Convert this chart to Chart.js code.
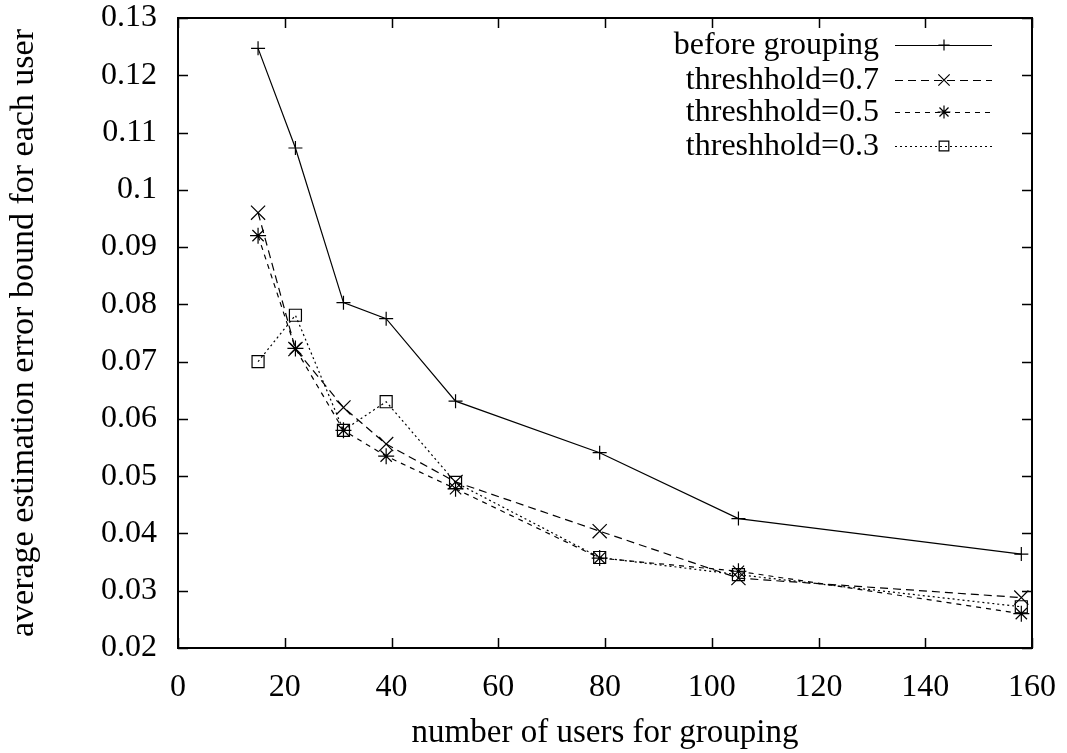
<!DOCTYPE html>
<html>
<head>
<meta charset="utf-8">
<script src="https://cdn.jsdelivr.net/npm/chart.js@4/dist/chart.umd.min.js"></script>
<style>
  html, body { margin: 0; padding: 0; background: #fff; }
  #wrap { width: 1067px; height: 753px; }
</style>
</head>
<body>
<div id="wrap"><canvas id="chart" width="1067" height="753"></canvas></div>
<script>
const users = [15, 22, 31, 39, 52, 79, 105, 158];
const beforeGrouping = [0.1247, 0.1073, 0.0803, 0.0775, 0.0631, 0.0541, 0.0426, 0.0364];
const thresh07 = [0.0960, 0.0722, 0.0620, 0.0556, 0.0490, 0.0404, 0.0322, 0.0288];
const thresh05 = [0.0920, 0.0723, 0.0580, 0.0535, 0.0478, 0.0357, 0.0334, 0.0260];
const thresh03 = [0.0700, 0.0781, 0.0580, 0.0630, 0.0489, 0.0358, 0.0328, 0.0272];
const seriesLabels = ["before grouping", "threshhold=0.7", "threshhold=0.5", "threshhold=0.3"];
const xTitle = "number of users for grouping";
const yTitle = "average estimation error bound for each user";

const FONT = "'Liberation Serif', 'DejaVu Serif', serif";

function pts(ys) {
  return users.map((x, i) => ({ x, y: ys[i] }));
}

function series(label, ys, style, radius, dash) {
  return {
    label,
    data: pts(ys),
    borderColor: "#000",
    backgroundColor: "rgba(0,0,0,0)",
    borderWidth: 1.2,
    borderDash: dash,
    pointStyle: style,
    pointRadius: radius,
    pointBorderColor: "#000",
    pointBorderWidth: 1.2,
    pointBackgroundColor: "rgba(0,0,0,0)",
    tension: 0
  };
}

// gnuplot-like frame, inward ticks on all four sides, axis titles and key
const gnuplotFrame = {
  id: "gnuplotFrame",
  afterDraw(chart) {
    const { ctx, chartArea: a, scales } = chart;
    const xs = scales.x, ys = scales.y;
    ctx.save();
    ctx.strokeStyle = "#000";
    ctx.lineWidth = 2;
    ctx.strokeRect(a.left, a.top, a.right - a.left, a.bottom - a.top);

    ctx.lineWidth = 1.5;
    const tl = 10;
    ctx.beginPath();
    xs.ticks.forEach(t => {
      const px = Math.round(xs.getPixelForValue(t.value)) + 0.5;
      ctx.moveTo(px, a.bottom); ctx.lineTo(px, a.bottom - tl);
      ctx.moveTo(px, a.top); ctx.lineTo(px, a.top + tl);
    });
    ys.ticks.forEach(t => {
      const py = Math.round(ys.getPixelForValue(t.value)) + 0.5;
      ctx.moveTo(a.left, py); ctx.lineTo(a.left + tl, py);
      ctx.moveTo(a.right, py); ctx.lineTo(a.right - tl, py);
    });
    ctx.stroke();

    // axis titles
    ctx.fillStyle = "#000";
    ctx.font = "33px " + FONT;
    ctx.textAlign = "center";
    ctx.textBaseline = "middle";
    ctx.fillText(xTitle, (a.left + a.right) / 2, 733);
    ctx.save();
    ctx.font = "34px " + FONT;
    ctx.translate(24, (a.top + a.bottom) / 2);
    ctx.rotate(-Math.PI / 2);
    ctx.fillText(yTitle, 0, 0);
    ctx.restore();

    // key, text right-aligned with the sample line on its right
    const rows = [45, 80, 112, 146];
    chart.data.datasets.forEach((ds, i) => {
      const y = rows[i];
      ctx.font = "32px " + FONT;
      ctx.textAlign = "right";
      ctx.textBaseline = "middle";
      ctx.fillStyle = "#000";
      ctx.fillText(ds.label, 879, y + 1);
      ctx.save();
      ctx.lineWidth = ds.borderWidth;
      ctx.setLineDash(ds.borderDash || []);
      ctx.beginPath();
      ctx.moveTo(895, y + 0.5);
      ctx.lineTo(992, y + 0.5);
      ctx.stroke();
      ctx.setLineDash([]);
      ctx.fillStyle = "rgba(0,0,0,0)";
      Chart.helpers.drawPoint(ctx, {
        pointStyle: ds.pointStyle,
        radius: ds.pointRadius * 0.8,
        borderWidth: ds.pointBorderWidth,
        rotation: 0
      }, 944, y);
      ctx.restore();
    });
    ctx.restore();
  }
};

// fixed axis boxes, without the extra room Chart.js keeps for edge labels
function fitX(scale) {
  scale.height = 105;
  scale.paddingLeft = 0;
  scale.paddingRight = 0;
}
function fitY(scale) {
  scale.width = 178;
  scale.paddingTop = 0;
  scale.paddingBottom = 0;
}

new Chart(document.getElementById("chart"), {
  type: "line",
  data: {
    datasets: [
      series(seriesLabels[0], beforeGrouping, "cross", 7, []),
      series(seriesLabels[1], thresh07, "crossRot", 10, [8, 5]),
      series(seriesLabels[2], thresh05, "star", 8, [5, 5]),
      series(seriesLabels[3], thresh03, "rect", 8.5, [2, 3])
    ]
  },
  options: {
    responsive: false,
    animation: false,
    layout: { padding: { top: 18, right: 35, left: 0, bottom: 0 } },
    plugins: {
      legend: { display: false },
      tooltip: { enabled: false }
    },
    scales: {
      x: {
        type: "linear",
        min: 0,
        max: 160,
        grid: { display: false, drawTicks: false },
        border: { display: false },
        ticks: {
          stepSize: 20,
          color: "#000",
          font: { family: FONT, size: 32 },
          padding: 20,
          maxRotation: 0
        },
        afterFit: fitX
      },
      y: {
        min: 0.02,
        max: 0.13,
        grid: { display: false, drawTicks: false },
        border: { display: false },
        ticks: {
          stepSize: 0.01,
          color: "#000",
          font: { family: FONT, size: 32 },
          padding: 21,
          callback: v => String(parseFloat(v.toFixed(2)))
        },
        afterFit: fitY
      }
    }
  },
  plugins: [gnuplotFrame]
});
</script>
</body>
</html>
